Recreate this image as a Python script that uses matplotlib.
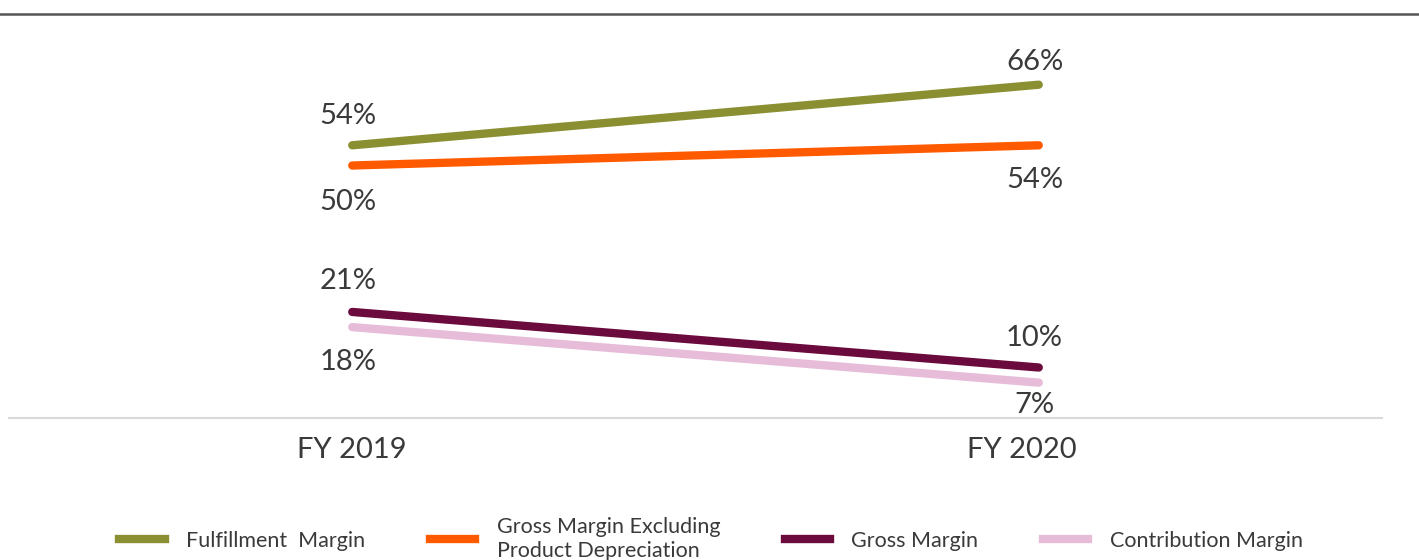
import matplotlib
matplotlib.use('Agg')
import matplotlib.pyplot as plt
import matplotlib.transforms as mtransforms
from matplotlib.lines import Line2D

plt.rcParams['font.family'] = ['Lato', 'DejaVu Sans']

years = ['FY 2019', 'FY 2020']
fulfillment = [54, 66]
grossExDep = [50, 54]
gross = [21, 10]
contribution = [18, 7]

seriesNames = [
    'Fulfillment  Margin',
    'Gross Margin Excluding\nProduct Depreciation',
    'Gross Margin',
    'Contribution Margin',
]
seriesColors = ['#8a8f32', '#ff5a00', '#6b0a3c', '#e6bcd9']
# vertical offset (points) of each value label from its point
labelOffsets = [[21, 16], [-26, -25], [22, 21], [-25, -16]]

W, H = 1419, 560
fig = plt.figure(figsize=(W / 100, H / 100), dpi=100)
ax = fig.add_axes([9 / W, (H - 418) / H, 1373 / W, 404 / H])

textColor = '#3a3a3a'
allSeries = [fulfillment, grossExDep, gross, contribution]
for values, name, color, offs in zip(allSeries, seriesNames, seriesColors, labelOffsets):
    ax.plot(range(len(years)), values, color=color, linewidth=6,
            solid_capstyle='round', label=name)
    for i, v in enumerate(values):
        ax.annotate(f'{v}%', (i, v), xytext=(-3, offs[i]), textcoords='offset points',
                    ha='center', va='center', fontsize=21, color=textColor)

ax.set_xlim(-0.5, 1.5)
ax.set_ylim(0, 80)
ax.set_xticks(range(len(years)))
ax.set_xticklabels(years, fontsize=21, color=textColor)
ax.tick_params(axis='x', length=0, pad=14)
ax.set_yticks([])
for side in ['top', 'left', 'right']:
    ax.spines[side].set_visible(False)
ax.spines['bottom'].set_color('#d9d9d9')
ax.spines['bottom'].set_linewidth(1.5)

# second tick label sits a bit left of its point in the original
lab = ax.get_xticklabels()[1]
lab.set_transform(lab.get_transform() + mtransforms.ScaledTranslation(-0.17, 0, fig.dpi_scale_trans))

# rule across the top
fig.add_artist(Line2D([0, 1], [1 - 14 / H, 1 - 14 / H], color='#555555', linewidth=1.8,
                      transform=fig.transFigure))

legHandles = [Line2D([0], [0], color=c, linewidth=6) for c in seriesColors]
fig.legend(legHandles, seriesNames, loc='center', ncol=4,
           bbox_to_anchor=(711 / W, 21 / H), frameon=False, fontsize=15.5,
           handlelength=2.1, handletextpad=1.0, columnspacing=3.0,
           labelcolor=textColor)

fig.savefig('out.png', dpi=100)
